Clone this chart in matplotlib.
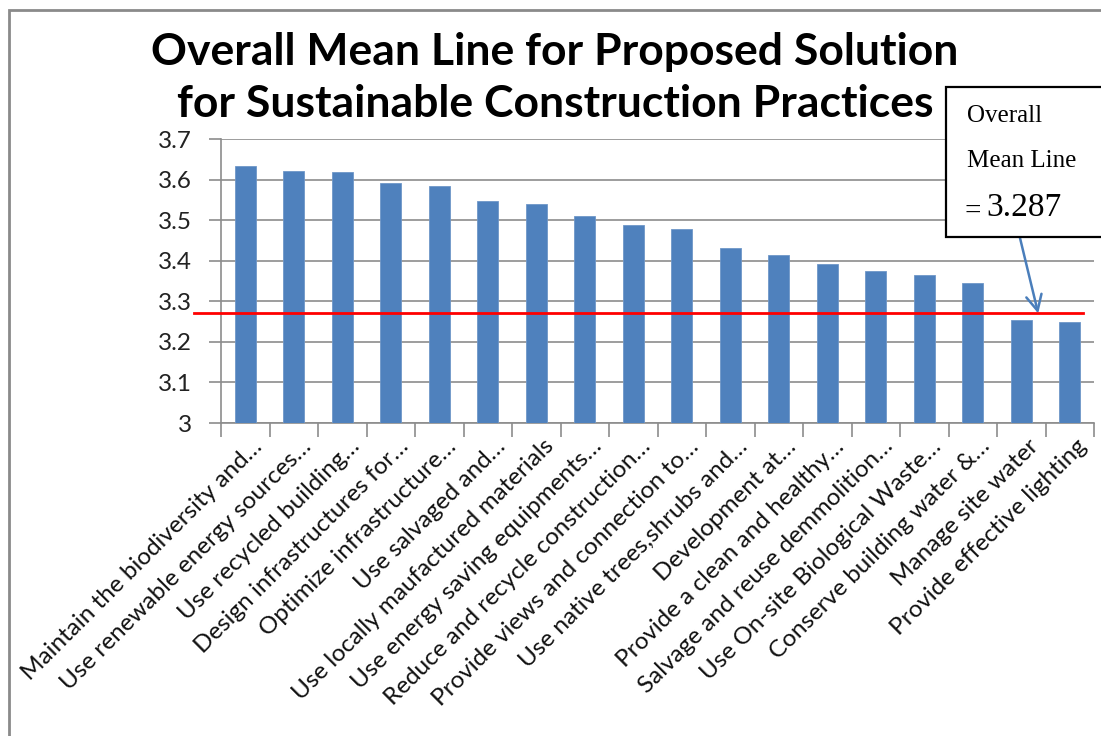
import numpy as np
from matplotlib import pyplot as plt
from matplotlib.patches import Rectangle
from matplotlib.transforms import ScaledTranslation

# data
practices = [
    "Maintain the biodiversity and\u2026",
    "Use renewable energy sources\u2026",
    "Use recycled building\u2026",
    "Design infrastructures for\u2026",
    "Optimize infrastructure\u2026",
    "Use salvaged and\u2026",
    "Use locally maufactured materials",
    "Use energy saving equipments\u2026",
    "Reduce and recycle construction\u2026",
    "Provide views and connection to\u2026",
    "Use native trees,shrubs and\u2026",
    "Development at\u2026",
    "Provide a clean and healthy\u2026",
    "Salvage and reuse demmolition\u2026",
    "Use On-site Biological Waste\u2026",
    "Conserve building water &\u2026",
    "Manage site water",
    "Provide effective lighting",
]
mean_scores = [3.634, 3.622, 3.618, 3.591, 3.583, 3.546, 3.539, 3.511, 3.488,
               3.479, 3.432, 3.415, 3.393, 3.374, 3.366, 3.345, 3.254, 3.248]
y_ticks = [3.0, 3.1, 3.2, 3.3, 3.4, 3.5, 3.6, 3.7]
y_tick_labels = ["3", "3.1", "3.2", "3.3", "3.4", "3.5", "3.6", "3.7"]
mean_line_y = 3.27        # where the red line is drawn
mean_label = "3.287"      # what the callout says

BAR_COLOR = "#4F81BD"
GRID_COLOR = "#8C8C8C"

fig = plt.figure(figsize=(11.01, 7.36), dpi=100)
ax = fig.add_axes([221 / 1101, 1 - 423 / 736, (1094 - 221) / 1101, (423 - 139) / 736])

x = np.arange(len(practices))
ax.bar(x, mean_scores, width=0.43, color=BAR_COLOR, edgecolor="#6F97C8", lw=0.6, zorder=3)

ax.set_xlim(-0.5, len(practices) - 0.5)
ax.set_ylim(3.0, 3.7)
ax.set_yticks(y_ticks)
ax.set_yticklabels(y_tick_labels, fontfamily="Lato", fontsize=17.5, color="#222222")
ax.yaxis.grid(True, color=GRID_COLOR, lw=1.2, zorder=0)
ax.tick_params(axis="y", length=9, width=1.2, color=GRID_COLOR, pad=12)

# category ticks sit between the bars
ax.set_xticks(np.arange(len(practices) + 1) - 0.5)
ax.set_xticklabels([])
ax.tick_params(axis="x", length=10, width=1.2, color=GRID_COLOR)
ax.set_xticks(x, minor=True)
ax.set_xticklabels(practices, minor=True, rotation=45, ha="right", va="center",
                   rotation_mode="anchor", fontfamily="Lato", fontsize=17.5, color="#111111")
ax.tick_params(axis="x", which="minor", length=0, pad=0)
off = ScaledTranslation(14 / 100, -20 / 100, fig.dpi_scale_trans)
for lbl in ax.get_xticklabels(minor=True):
    lbl.set_transform(lbl.get_transform() + off)

for side in ["top", "right"]:
    ax.spines[side].set_visible(False)
for side in ["left", "bottom"]:
    ax.spines[side].set_color(GRID_COLOR)
    ax.spines[side].set_linewidth(1.2)

# overall mean line, runs slightly past the axis on the left
ax.plot([-1.06, 17.27], [mean_line_y, mean_line_y], color="#FF0000", lw=2, zorder=4, clip_on=False)

# title
fig.text(0.504, 1 - 65 / 736, "Overall Mean Line for Proposed Solution", ha="center",
         va="baseline", fontfamily="Lato", fontweight="bold", fontsize=32)
fig.text(0.504, 1 - 117 / 736, "for Sustainable Construction Practices", ha="center",
         va="baseline", fontfamily="Lato", fontweight="bold", fontsize=32)

# callout box + arrow
fig.patches.append(Rectangle((945.7 / 1101, 1 - 237 / 736), 0.2, 150 / 736, transform=fig.transFigure,
                             facecolor="white", edgecolor="black", lw=1.6, zorder=5))
fig.text(967 / 1101, 1 - 122 / 736, "Overall", fontfamily="Liberation Serif", fontsize=18, va="baseline", zorder=6)
fig.text(967 / 1101, 1 - 167 / 736, "Mean Line", fontfamily="Liberation Serif", fontsize=18, va="baseline", zorder=6)
fig.text(965 / 1101, 1 - 219 / 736, "=", fontfamily="Liberation Serif", fontsize=21, va="baseline", zorder=6)
fig.text(986 / 1101, 1 - 216 / 736, mean_label, fontfamily="Liberation Serif", fontsize=24, va="baseline", zorder=6)
ax.annotate("", xy=(16.35, mean_line_y), xytext=(1020 / 1101, 1 - 238 / 736), textcoords="figure fraction",
            arrowprops=dict(arrowstyle="->", color="#4A7EBB", lw=1.8, mutation_scale=28, shrinkA=0, shrinkB=0),
            zorder=6, annotation_clip=False)

# outer chart frame (cut off on the right and bottom like the screenshot)
fig.patches.append(Rectangle((9 / 1101, -0.1), 1.2, 1.1 - 10 / 736, transform=fig.transFigure,
                             facecolor="none", edgecolor="#8A8A8A", lw=2))

fig.savefig("out.png", dpi=100)
